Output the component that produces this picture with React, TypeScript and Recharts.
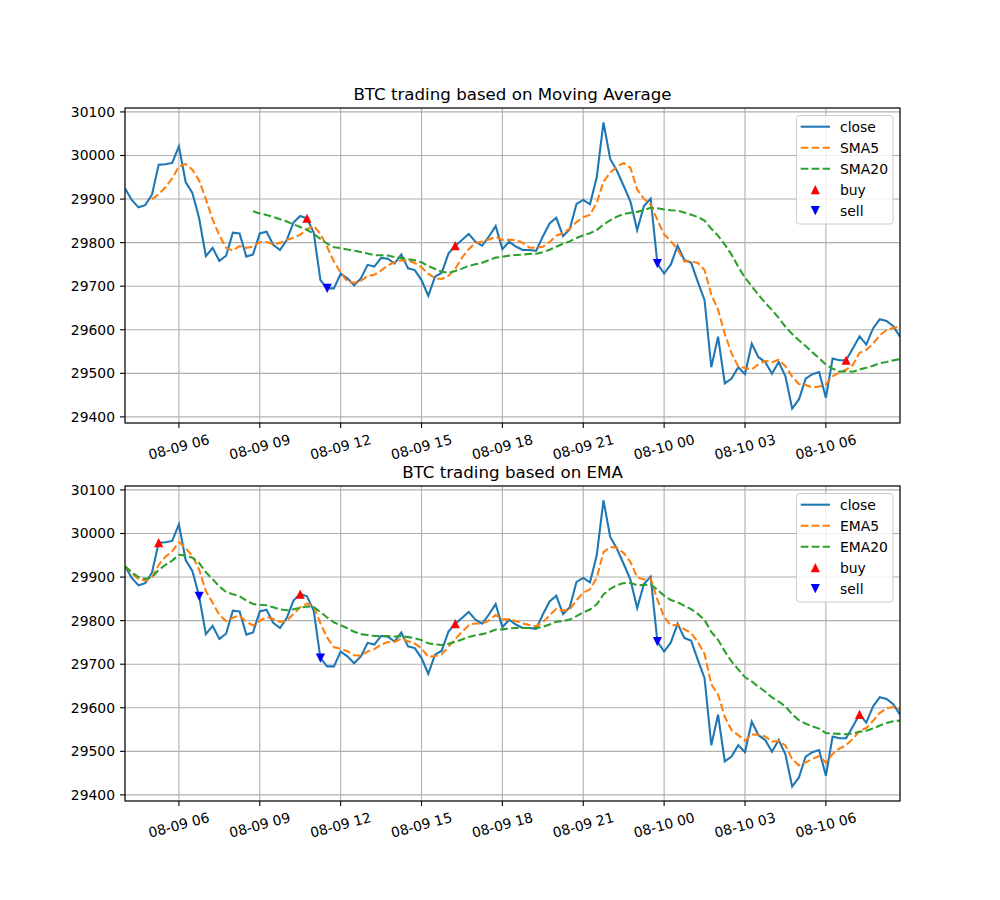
import React from 'react';
import { ComposedChart, Line, Scatter, XAxis, YAxis, CartesianGrid } from 'recharts';

// ---- categories (15-minute bars) ----
const times = [
  '08-09 04:00', '08-09 04:15', '08-09 04:30', '08-09 04:45',
  '08-09 05:00', '08-09 05:15', '08-09 05:30', '08-09 05:45',
  '08-09 06:00', '08-09 06:15', '08-09 06:30', '08-09 06:45',
  '08-09 07:00', '08-09 07:15', '08-09 07:30', '08-09 07:45',
  '08-09 08:00', '08-09 08:15', '08-09 08:30', '08-09 08:45',
  '08-09 09:00', '08-09 09:15', '08-09 09:30', '08-09 09:45',
  '08-09 10:00', '08-09 10:15', '08-09 10:30', '08-09 10:45',
  '08-09 11:00', '08-09 11:15', '08-09 11:30', '08-09 11:45',
  '08-09 12:00', '08-09 12:15', '08-09 12:30', '08-09 12:45',
  '08-09 13:00', '08-09 13:15', '08-09 13:30', '08-09 13:45',
  '08-09 14:00', '08-09 14:15', '08-09 14:30', '08-09 14:45',
  '08-09 15:00', '08-09 15:15', '08-09 15:30', '08-09 15:45',
  '08-09 16:00', '08-09 16:15', '08-09 16:30', '08-09 16:45',
  '08-09 17:00', '08-09 17:15', '08-09 17:30', '08-09 17:45',
  '08-09 18:00', '08-09 18:15', '08-09 18:30', '08-09 18:45',
  '08-09 19:00', '08-09 19:15', '08-09 19:30', '08-09 19:45',
  '08-09 20:00', '08-09 20:15', '08-09 20:30', '08-09 20:45',
  '08-09 21:00', '08-09 21:15', '08-09 21:30', '08-09 21:45',
  '08-09 22:00', '08-09 22:15', '08-09 22:30', '08-09 22:45',
  '08-09 23:00', '08-09 23:15', '08-09 23:30', '08-09 23:45',
  '08-10 00:00', '08-10 00:15', '08-10 00:30', '08-10 00:45',
  '08-10 01:00', '08-10 01:15', '08-10 01:30', '08-10 01:45',
  '08-10 02:00', '08-10 02:15', '08-10 02:30', '08-10 02:45',
  '08-10 03:00', '08-10 03:15', '08-10 03:30', '08-10 03:45',
  '08-10 04:00', '08-10 04:15', '08-10 04:30', '08-10 04:45',
  '08-10 05:00', '08-10 05:15', '08-10 05:30', '08-10 05:45',
  '08-10 06:00', '08-10 06:15', '08-10 06:30', '08-10 06:45',
  '08-10 07:00', '08-10 07:15', '08-10 07:30', '08-10 07:45',
  '08-10 08:00', '08-10 08:15', '08-10 08:30', '08-10 08:45',
];

// ---- series values ----
const close = [
  29925, 29898, 29881, 29886, 29910, 29979, 29980, 29983, 30021, 29939,
  29914, 29856, 29769, 29788, 29758, 29770, 29823, 29821, 29768, 29773,
  29821, 29825, 29795, 29783, 29806, 29846, 29861, 29856, 29823, 29714,
  29695, 29695, 29729, 29718, 29702, 29718, 29749, 29745, 29765, 29763,
  29752, 29773, 29741, 29737, 29714, 29678, 29722, 29731, 29775, 29793,
  29806, 29820, 29802, 29793, 29814, 29838, 29785, 29802, 29791, 29783,
  29783, 29781, 29814, 29844, 29857, 29815, 29831, 29889, 29898, 29888,
  29950, 30076, 29992, 29965, 29930, 29894, 29829, 29884, 29901, 29752,
  29729, 29750, 29793, 29760, 29754, 29710, 29668, 29514, 29584, 29477,
  29488, 29514, 29498, 29568, 29537, 29526, 29499, 29526, 29493, 29419,
  29440, 29488, 29498, 29503, 29444, 29534, 29530, 29530, 29557, 29585,
  29566, 29603, 29624, 29620, 29608, 29584,
];

const sma5 = [
  null, null, null, null, 29900.0, 29910.8, 29927.2, 29947.6, 29974.6, 29980.4,
  29967.4, 29942.6, 29899.8, 29853.2, 29817.0, 29788.2, 29781.6, 29792.0, 29788.0, 29791.0,
  29801.2, 29801.6, 29796.4, 29799.4, 29806.0, 29811.0, 29818.2, 29830.4, 29838.4, 29820.0,
  29789.8, 29756.6, 29731.2, 29710.2, 29707.8, 29712.4, 29723.2, 29726.4, 29735.8, 29748.0,
  29754.8, 29759.6, 29758.8, 29753.2, 29743.4, 29728.6, 29718.4, 29716.4, 29724.0, 29739.8,
  29765.4, 29785.0, 29799.2, 29802.8, 29807.0, 29813.4, 29806.4, 29806.4, 29806.0, 29799.8,
  29788.8, 29788.0, 29790.4, 29801.0, 29815.8, 29822.2, 29832.2, 29847.2, 29858.0, 29864.2,
  29891.2, 29940.2, 29960.8, 29974.2, 29982.6, 29971.4, 29922.0, 29900.4, 29887.6, 29852.0,
  29819.0, 29803.2, 29785.0, 29756.8, 29757.2, 29753.4, 29737.0, 29681.2, 29646.0, 29590.6,
  29546.2, 29515.4, 29512.2, 29509.0, 29521.0, 29528.6, 29525.6, 29531.2, 29516.2, 29492.6,
  29475.4, 29473.2, 29467.6, 29469.6, 29474.6, 29493.4, 29501.8, 29508.2, 29519.0, 29547.2,
  29553.6, 29568.2, 29587.0, 29599.6, 29604.2, 29607.8,
];

const sma20 = [
  null, null, null, null, null, null, null, null, null, null,
  null, null, null, null, null, null, null, null, null, 29872.1,
  29866.9, 29863.3, 29859.0, 29853.8, 29848.6, 29842.0, 29836.0, 29829.7, 29819.8, 29808.5,
  29797.6, 29789.5, 29787.5, 29784.0, 29781.2, 29778.6, 29774.9, 29771.1, 29771.0, 29770.5,
  29767.0, 29764.4, 29761.7, 29759.4, 29754.8, 29746.4, 29739.5, 29733.2, 29730.8, 29734.8,
  29740.3, 29746.6, 29750.2, 29754.0, 29759.6, 29765.6, 29767.4, 29770.2, 29771.5, 29772.5,
  29774.1, 29774.5, 29778.1, 29783.5, 29790.6, 29797.5, 29802.9, 29810.8, 29817.0, 29821.7,
  29828.9, 29841.7, 29851.2, 29859.8, 29865.6, 29868.4, 29870.6, 29874.7, 29880.2, 29878.7,
  29876.0, 29874.4, 29873.4, 29869.2, 29864.0, 29858.8, 29850.6, 29831.9, 29816.2, 29795.6,
  29772.5, 29744.4, 29719.7, 29699.9, 29680.2, 29661.8, 29645.3, 29627.4, 29607.0, 29590.4,
  29575.9, 29562.8, 29548.1, 29535.2, 29519.7, 29510.9, 29504.0, 29504.8, 29503.5, 29508.9,
  29512.8, 29517.2, 29523.5, 29526.1, 29529.7, 29532.6,
];

const ema5 = [
  29925.0, 29908.8, 29895.6, 29891.6, 29898.7, 29928.0, 29946.4, 29959.1, 29980.3, 29966.3,
  29948.7, 29917.5, 29867.8, 29841.1, 29813.3, 29798.9, 29806.9, 29811.6, 29797.1, 29789.0,
  29799.7, 29808.1, 29803.8, 29796.8, 29799.9, 29815.3, 29830.5, 29839.0, 29833.7, 29793.8,
  29760.9, 29738.9, 29735.6, 29729.7, 29720.5, 29719.7, 29729.4, 29734.6, 29744.8, 29750.8,
  29751.2, 29758.5, 29752.7, 29747.4, 29736.3, 29716.9, 29718.6, 29722.7, 29740.1, 29757.8,
  29773.8, 29789.2, 29793.5, 29793.3, 29800.2, 29812.8, 29803.5, 29803.0, 29799.0, 29793.7,
  29790.1, 29787.1, 29796.1, 29812.0, 29827.0, 29823.0, 29825.7, 29846.8, 29863.9, 29871.9,
  29897.9, 29957.3, 29968.9, 29967.6, 29955.0, 29934.7, 29899.5, 29894.3, 29896.5, 29848.4,
  29808.6, 29789.0, 29790.4, 29780.2, 29771.5, 29751.0, 29723.3, 29653.6, 29630.4, 29579.2,
  29548.8, 29537.2, 29524.1, 29538.8, 29538.2, 29534.1, 29522.4, 29523.6, 29513.4, 29481.9,
  29468.0, 29474.6, 29482.4, 29489.3, 29474.2, 29494.1, 29506.1, 29514.1, 29528.4, 29547.2,
  29553.5, 29570.0, 29588.0, 29598.7, 29601.8, 29595.9,
];

const ema20 = [
  29925.0, 29910.8, 29899.9, 29895.9, 29899.3, 29916.1, 29928.2, 29937.7, 29951.0, 29949.2,
  29944.2, 29932.2, 29910.8, 29895.3, 29878.5, 29865.5, 29860.6, 29856.1, 29846.2, 29838.1,
  29836.3, 29835.1, 29830.8, 29825.8, 29823.8, 29826.1, 29829.6, 29832.3, 29831.4, 29819.6,
  29807.2, 29796.0, 29789.4, 29782.4, 29774.5, 29769.0, 29767.0, 29764.9, 29764.9, 29764.7,
  29763.5, 29764.4, 29762.1, 29759.7, 29755.3, 29747.9, 29745.4, 29744.0, 29747.0, 29751.4,
  29756.6, 29762.7, 29766.5, 29769.0, 29773.3, 29779.5, 29780.0, 29782.1, 29783.0, 29783.0,
  29783.0, 29782.8, 29785.8, 29791.3, 29797.6, 29799.2, 29802.3, 29810.5, 29818.9, 29825.5,
  29837.3, 29860.1, 29872.7, 29881.5, 29886.1, 29886.8, 29881.3, 29881.6, 29883.4, 29870.9,
  29857.4, 29847.2, 29842.0, 29834.2, 29826.6, 29815.4, 29801.4, 29774.0, 29755.9, 29729.4,
  29706.4, 29688.0, 29669.9, 29660.2, 29648.5, 29636.8, 29623.7, 29614.4, 29602.8, 29585.3,
  29571.5, 29563.5, 29557.3, 29552.1, 29541.8, 29541.1, 29540.0, 29539.1, 29540.8, 29545.0,
  29547.0, 29552.3, 29559.2, 29565.0, 29569.1, 29570.5,
];

// ---- trade signals ----
const smaBuyTimes = ['08-09 10:45', '08-09 16:15', '08-10 06:45'];
const smaBuyPrices = [29856, 29793, 29530];
const smaSellTimes = ['08-09 11:30', '08-09 23:45'];
const smaSellPrices = [29695, 29752];
const emaBuyTimes = ['08-09 05:15', '08-09 10:30', '08-09 16:15', '08-10 07:15'];
const emaBuyPrices = [29979, 29861, 29793, 29585];
const emaSellTimes = ['08-09 06:45', '08-09 11:15', '08-09 23:45'];
const emaSellPrices = [29856, 29714, 29752];

// ---- tick labels ----
const xTickTimes = ['08-09 06:00', '08-09 09:00', '08-09 12:00', '08-09 15:00', '08-09 18:00',
  '08-09 21:00', '08-10 00:00', '08-10 03:00', '08-10 06:00'];
const xTickLabels = ['08-09 06', '08-09 09', '08-09 12', '08-09 15', '08-09 18',
  '08-09 21', '08-10 00', '08-10 03', '08-10 06'];
const yTicks = [29400, 29500, 29600, 29700, 29800, 29900, 30000, 30100];
const yDomain = [29386, 30109];

const titles = ['BTC trading based on Moving Average', 'BTC trading based on EMA'];
const smaNames = ['close', 'SMA5', 'SMA20', 'buy', 'sell'];
const emaNames = ['close', 'EMA5', 'EMA20', 'buy', 'sell'];

const C_CLOSE = '#1f77b4';
const C_FAST = '#ff7f0e';
const C_SLOW = '#2ca02c';
const FONT = 'DejaVu Sans';
const DASH = '7.7 3.3';
const LW = 2.08;

const xTickIdx = xTickTimes.map((t) => times.indexOf(t));

const PLOT_LEFT = 125;
const PLOT_W = 775;
const PLOT_H = 315;

function triUp(p: any) {
  const { cx, cy } = p;
  if (cx == null || cy == null) return <g />;
  const s = 4.6;
  return <path d={`M${cx},${cy - s}L${cx - s},${cy + s}L${cx + s},${cy + s}Z`} fill="#ff0000" />;
}
function triDown(p: any) {
  const { cx, cy } = p;
  if (cx == null || cy == null) return <g />;
  const s = 4.6;
  return <path d={`M${cx},${cy + s}L${cx - s},${cy - s}L${cx + s},${cy - s}Z`} fill="#0000ff" />;
}

function XTick(props: any) {
  const { x, y, payload } = props;
  const k = xTickIdx.indexOf(payload.value);
  const label = k >= 0 ? xTickLabels[k] : '';
  const cy = y + 19;
  return (
    <text x={x} y={cy} dy="0.35em" textAnchor="middle" transform={`rotate(-15 ${x} ${cy})`}
      fontSize={13.9} fill="#000" fontFamily={FONT}>{label}</text>
  );
}

type PanelProps = {
  top: number; height: number; plotTop: number; title: string; names: string[];
  fast: (number | null)[]; slow: (number | null)[];
  buyTimes: string[]; buyPrices: number[]; sellTimes: string[]; sellPrices: number[];
};

function Panel(p: PanelProps) {
  const rows = times.map((t, i) => ({ idx: i, time: t, close: close[i], fast: p.fast[i], slow: p.slow[i] }));
  const buys = p.buyTimes.map((t, j) => ({ idx: times.indexOf(t), price: p.buyPrices[j] }));
  const sells = p.sellTimes.map((t, j) => ({ idx: times.indexOf(t), price: p.sellPrices[j] }));
  const xAxisH = p.height - p.plotTop - PLOT_H;
  const lx = 796;
  const ly = p.plotTop + 7;
  const row0 = p.plotTop + 18.7;
  return (
    <div style={{ position: 'absolute', left: 0, top: p.top, width: 1000, height: p.height }}>
      <ComposedChart width={1000} height={p.height} data={rows}
        margin={{ top: p.plotTop, right: 100, bottom: 0, left: 0 }}>
        <CartesianGrid stroke="#b0b0b0" strokeWidth={1.1} />
        <XAxis type="number" dataKey="idx" domain={[0, times.length - 1]} ticks={xTickIdx}
          allowDataOverflow interval={0} height={xAxisH} tickSize={5} tickMargin={0}
          tickLine={{ stroke: '#000', strokeWidth: 1.1 }} axisLine={false}
          tick={(tp: any) => <XTick {...tp} />} />
        <YAxis type="number" domain={yDomain} ticks={yTicks} allowDataOverflow interval={0}
          width={PLOT_LEFT} tickSize={5} tickMargin={5}
          tickLine={{ stroke: '#000', strokeWidth: 1.1 }} axisLine={false}
          tick={{ fontSize: 13.9, fill: '#000', fontFamily: FONT }} />
        <Line type="linear" dataKey="close" name={p.names[0]} stroke={C_CLOSE} strokeWidth={LW}
          dot={false} activeDot={false} isAnimationActive={false} />
        <Line type="linear" dataKey="fast" name={p.names[1]} stroke={C_FAST} strokeWidth={LW}
          strokeDasharray={DASH} dot={false} activeDot={false} isAnimationActive={false} />
        <Line type="linear" dataKey="slow" name={p.names[2]} stroke={C_SLOW} strokeWidth={LW}
          strokeDasharray={DASH} dot={false} activeDot={false} isAnimationActive={false} />
        <Scatter data={buys} dataKey="price" name={p.names[3]} shape={triUp} isAnimationActive={false} />
        <Scatter data={sells} dataKey="price" name={p.names[4]} shape={triDown} isAnimationActive={false} />
      </ComposedChart>
      <svg width={1000} height={p.height} style={{ position: 'absolute', left: 0, top: 0, pointerEvents: 'none' }}>
        <rect x={PLOT_LEFT} y={p.plotTop} width={PLOT_W} height={PLOT_H} fill="none" stroke="#000" strokeWidth={1.1} />
        <text x={PLOT_LEFT + PLOT_W / 2} y={p.plotTop - 8.3} textAnchor="middle" fontSize={16.67}
          fill="#000" fontFamily={FONT}>{p.title}</text>
        <rect x={lx + 0.5} y={ly + 0.5} width={96.5} height={108.5} rx={3} ry={3}
          fill="#ffffff" fillOpacity={0.8} stroke="#cccccc" strokeWidth={1} />
        {p.names.map((n, k) => {
          const yy = row0 + k * 21;
          let handle: any = null;
          if (k === 0) handle = <line x1={lx + 4.7} x2={lx + 34} y1={yy} y2={yy} stroke={C_CLOSE} strokeWidth={LW} />;
          else if (k === 1) handle = <line x1={lx + 4.7} x2={lx + 34} y1={yy} y2={yy} stroke={C_FAST} strokeWidth={LW} strokeDasharray={DASH} />;
          else if (k === 2) handle = <line x1={lx + 4.7} x2={lx + 34} y1={yy} y2={yy} stroke={C_SLOW} strokeWidth={LW} strokeDasharray={DASH} />;
          else if (k === 3) handle = triUp({ cx: lx + 19.3, cy: yy });
          else handle = triDown({ cx: lx + 19.3, cy: yy });
          return (
            <g key={n}>
              {handle}
              <text x={lx + 44} y={yy} dy="0.35em" fontSize={13.9} fill="#000" fontFamily={FONT}>{n}</text>
            </g>
          );
        })}
      </svg>
    </div>
  );
}

export default function App() {
  return (
    <div style={{ position: 'absolute', left: 0, top: 0, width: 1000, height: 900, background: '#fff', fontFamily: FONT }}>
      <Panel top={0} height={470} plotTop={108} title={titles[0]} names={smaNames}
        fast={sma5} slow={sma20} buyTimes={smaBuyTimes} buyPrices={smaBuyPrices}
        sellTimes={smaSellTimes} sellPrices={smaSellPrices} />
      <Panel top={440} height={460} plotTop={46} title={titles[1]} names={emaNames}
        fast={ema5} slow={ema20} buyTimes={emaBuyTimes} buyPrices={emaBuyPrices}
        sellTimes={emaSellTimes} sellPrices={emaSellPrices} />
    </div>
  );
}
